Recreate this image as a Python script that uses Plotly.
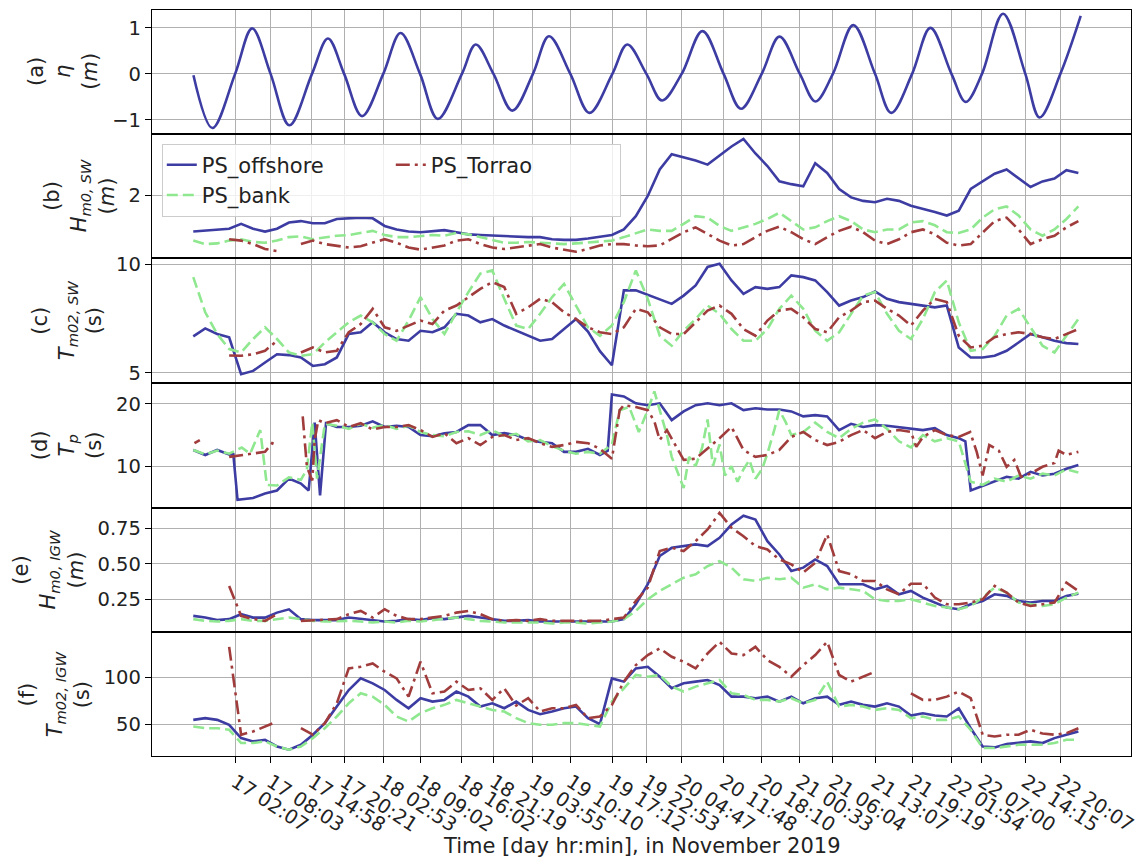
import numpy as np
import pandas as pd
import plotly.graph_objects as go
from plotly.subplots import make_subplots

# ---------------- data ----------------
T0 = pd.Timestamp("2019-11-17 02:07")

tick_labels = ["17 02:07", "17 08:03", "17 14:58", "17 20:21", "18 02:53", "18 09:02",
               "18 16:02", "18 21:19", "19 03:55", "19 10:10", "19 17:12", "19 22:53",
               "20 04:47", "20 11:48", "20 18:10", "21 00:33", "21 06:04", "21 13:07",
               "21 19:19", "22 01:54", "22 07:00", "22 14:15", "22 20:07"]

# tide (hours after 17 02:07, water level m)
tide_h = [-6.97, -3.8, 0, 2.85, 5.93, 9.08, 12.85, 15.52, 18.23, 21.22, 24.77, 27.66,
          30.92, 33.89, 37.92, 40.23, 43.2, 46.35, 49.8, 52.48, 56.05, 59.24, 63.08, 65.57,
          68.77, 71.38, 74.67, 78.14, 81.68, 84.58, 88.05, 91.02, 94.43, 97.04, 99.95, 103.37,
          107.0, 109.71, 113.2, 116.26, 119.78, 122.17, 124.88, 128.4, 132.13, 134.52, 138.0, 141.39]
tide_v = [-0.03, -1.18, 0, 0.99, 0, -1.12, 0, 0.77, 0, -0.92, 0, 0.89,
          0, -0.98, 0, 0.64, 0, -0.80, 0, 0.82, 0, -0.85, 0, 0.64,
          0, -0.58, 0, 0.93, 0, -0.76, 0, 0.81, 0, -0.60, 0, 1.06,
          0, -0.85, 0, 1.00, 0, -0.61, 0, 1.31, 0, -0.95, 0, 1.26]

# common 2-hourly sampling (hours after 17 02:07)
hours = np.arange(-7, 142, 2)

# (b) Hm0,SW (m)
off_b = [1.48, 1.49, 1.50, 1.52, 1.59, 1.52, 1.48, 1.52, 1.61, 1.63,
         1.60, 1.60, 1.66, 1.67, 1.68, 1.67, 1.56, 1.51, 1.48, 1.47,
         1.49, 1.50, 1.47, 1.44, 1.43, 1.42, 1.41, 1.41, 1.40, 1.40,
         1.37, 1.36, 1.36, 1.38, 1.41, 1.43, 1.51, 1.70, 1.99, 2.37,
         2.59, 2.55, 2.50, 2.44, 2.57, 2.70, 2.81, 2.60, 2.42, 2.20,
         2.16, 2.13, 2.46, 2.32, 2.09, 1.97, 1.92, 1.90, 1.95, 1.92,
         1.85, 1.81, 1.76, 1.71, 1.78, 2.09, 2.20, 2.31, 2.37, 2.24,
         2.12, 2.20, 2.24, 2.36, 2.32]
bank_b = [1.35, 1.30, 1.31, 1.35, 1.37, 1.33, 1.32, 1.35, 1.40, 1.41,
          1.37, 1.40, 1.42, 1.43, 1.46, 1.49, 1.43, 1.40, 1.40, 1.41,
          1.43, 1.42, 1.46, 1.44, 1.40, 1.35, 1.32, 1.32, 1.33, 1.32,
          1.31, 1.30, 1.31, 1.32, 1.33, 1.35, 1.40, 1.46, 1.51, 1.49,
          1.49, 1.59, 1.70, 1.68, 1.56, 1.49, 1.54, 1.59, 1.66, 1.75,
          1.63, 1.51, 1.54, 1.63, 1.70, 1.63, 1.51, 1.47, 1.51, 1.51,
          1.61, 1.63, 1.57, 1.47, 1.46, 1.51, 1.68, 1.80, 1.84, 1.71,
          1.51, 1.42, 1.51, 1.66, 1.84]
tor_b = [1.23, None, None, 1.37, 1.35, 1.30, 1.23, 1.20, None, 1.30,
         1.35, 1.30, 1.27, 1.25, 1.27, 1.32, 1.37, 1.32, 1.25, 1.22,
         1.25, 1.28, 1.35, 1.37, 1.30, 1.25, 1.23, 1.25, 1.28, 1.30,
         1.25, 1.22, 1.19, 1.23, 1.28, 1.30, 1.30, 1.28, 1.27, 1.28,
         1.37, 1.47, 1.54, 1.44, 1.35, 1.28, 1.30, 1.40, 1.49, 1.55,
         1.47, 1.37, 1.30, 1.40, 1.49, 1.55, 1.47, 1.35, 1.30, 1.37,
         1.47, 1.51, 1.44, 1.32, 1.28, 1.30, 1.47, 1.63, 1.68, 1.51,
         1.30, 1.37, 1.42, 1.54, 1.63]

# (c) Tm02,SW (s)
off_c = [6.68, 7.05, 6.79, 6.64, 4.94, 5.09, 5.48, 5.86, 5.82, 5.71,
         5.32, 5.40, 5.71, 6.79, 6.87, 7.33, 6.87, 6.56, 6.48, 6.94,
         6.87, 7.10, 7.72, 7.64, 7.33, 7.48, 7.18, 6.94, 6.71, 6.48,
         6.56, 7.02, 7.48, 6.90, 6.00, 5.35, 8.80, 8.80, 8.60, 8.41,
         8.18, 8.56, 9.03, 9.88, 10.03, 9.26, 8.64, 8.95, 8.87, 8.95,
         9.49, 9.41, 9.26, 8.72, 8.10, 8.33, 8.49, 8.75, 8.41, 8.26,
         8.18, 8.10, 8.02, 8.10, 6.17, 5.71, 5.71, 5.79, 6.02, 6.40,
         6.79, 6.64, 6.48, 6.37, 6.33]
bank_c = [9.41, 7.79, 6.79, 6.10, 5.94, 6.56, 7.10, 6.56, 5.94, 5.79,
          5.86, 6.40, 6.87, 7.33, 7.64, 7.33, 6.79, 6.48, 7.41, 8.49,
          7.48, 6.79, 7.79, 8.72, 9.57, 9.72, 8.41, 7.18, 7.02, 7.72,
          8.49, 9.10, 8.10, 7.10, 6.71, 7.18, 8.26, 9.72, 8.41, 6.71,
          6.25, 6.94, 7.48, 8.10, 7.72, 7.02, 6.48, 6.48, 7.02, 7.95,
          8.56, 7.95, 6.94, 6.48, 6.87, 7.72, 8.56, 8.72, 7.72, 6.94,
          6.56, 7.48, 8.72, 9.26, 7.33, 6.02, 6.10, 6.71, 7.64, 7.95,
          7.10, 6.25, 5.94, 6.71, 7.48]
tor_c = [8.02, None, None, 5.80, 5.79, 5.86, 6.02, 6.48, None, 5.94,
         6.17, 5.94, 6.02, 6.87, 7.25, 7.95, 7.10, 6.94, 7.18, 7.41,
         7.25, 7.87, 8.10, 8.49, 8.87, 9.18, 8.95, 7.72, 8.02, 8.41,
         8.26, 7.79, 7.48, 7.10, 6.87, 6.79, 7.10, 7.95, 7.79, 7.10,
         6.79, 6.79, 7.33, 7.87, 8.10, 7.72, 7.02, 6.71, 7.41, 7.87,
         7.95, 7.56, 7.02, 6.87, 7.56, 7.87, 8.26, 8.33, 7.95, 7.64,
         7.18, 7.87, 8.41, 8.26, 6.71, 6.17, 6.25, 6.64, 6.79, 6.87,
         6.79, 6.64, 6.56, 6.79, 7.02]

# (d) Tp (s) -- irregular samples
off_d_h = [-7, -5, -3, -1, -0.3, 0.4, 3, 5, 7, 9, 11, 12.3, 13.3, 14.2, 15.2, 17, 19, 21, 23, 25,
           27, 29, 31, 33, 35, 37, 39, 41, 43, 45, 47, 49, 51, 53, 55, 57, 59, 61, 62.3, 63,
           65, 67, 69, 71, 73, 75, 77, 79, 81, 83, 85, 87, 89, 91, 93, 95, 97, 99, 101, 103,
           105, 107, 109, 111, 113, 115, 117, 119, 121, 122.1, 123, 125, 127, 129, 131, 133,
           135, 137, 139, 141]
off_d = [12.6, 11.8, 12.6, 11.9, 11.9, 4.6, 4.9, 5.6, 6.1, 8.0, 7.2, 6.1, 17.0, 5.3, 16.9, 16.3,
         16.3, 16.5, 17.2, 16.3, 16.5, 16.3, 15.0, 14.8, 15.3, 15.5, 16.6, 16.6, 15.0, 15.3,
         15.0, 14.2, 13.9, 13.7, 12.3, 12.3, 12.8, 11.8, 12.5, 21.5, 21.2, 20.1, 19.8, 20.1,
         17.4, 18.8, 19.8, 20.1, 19.8, 20.1, 19.0, 19.3, 19.1, 19.1, 18.8, 18.0, 18.2, 18.0,
         15.8, 16.8, 16.3, 16.6, 16.5, 16.3, 16.1, 15.8, 16.1, 15.0, 14.5, 14.0, 6.1, 6.8,
         7.5, 8.3, 8.0, 9.1, 8.5, 8.8, 9.6, 10.2]
bank_d_h = [-7, -5, -3, -1, 1.1, 2.5, 4.2, 5.3, 7, 9, 11, 12, 12.9, 13.7, 15, 17, 19, 21, 23, 25,
            27, 29, 31, 33, 35, 37, 39, 41, 43, 45, 47, 49, 51, 53, 55, 57, 59, 61, 63, 64.3,
            65.9, 67.5, 69, 70.1, 71, 72.2, 73, 73.8, 75, 75.9, 77, 78.1, 79, 79.9, 81, 81.9,
            83, 84, 85, 86, 87, 88.1, 89, 90.2, 91, 92.1, 93, 95, 97, 99, 101, 103, 105, 107,
            109, 111, 113, 115, 117, 119, 121, 123, 125, 127, 129, 131, 133, 135, 137, 139, 141]
bank_d = [12.6, 11.9, 12.5, 12.0, 13.0, 12.0, 15.8, 7.0, 6.9, 8.2, 7.8, 9.5, 17.0, 8.0, 16.8,
          16.5, 16.0, 16.8, 16.2, 16.6, 16.0, 16.5, 15.5, 15.0, 14.8, 15.5, 15.6, 15.0, 15.8,
          14.8, 15.2, 14.0, 14.2, 13.2, 12.5, 12.0, 12.3, 12.0, 13.5, 19.0, 19.5, 15.5, 19.0,
          22.0, 19.0, 15.0, 11.5, 9.5, 6.5, 11.5, 10.0, 13.0, 17.5, 10.0, 13.5, 8.5, 10.0,
          7.5, 9.5, 11.0, 8.0, 9.5, 12.0, 16.0, 19.0, 17.0, 15.0, 15.5, 17.0, 15.5, 14.5,
          16.0, 17.0, 17.5, 16.0, 14.0, 13.0, 15.0, 14.0, 14.5, 14.0, 7.5, 7.0, 8.0, 7.5,
          8.5, 8.0, 8.8, 8.5, 9.5, 9.0]
tor_d_h = [-6.8, -5.9, -4, -1, 1.1, 3, 5, 6.2, 7, 9, 11.3, 12, 12.9, 13.3, 13.9, 15, 17, 19, 21,
           23, 25, 27, 29, 31, 33, 35, 37, 39, 41, 43, 45, 47, 49, 51, 53, 55, 57, 59, 61, 63,
           64.3, 65, 67, 69, 70.1, 71, 72.2, 73.8, 75, 77, 79, 81, 83, 85, 87, 89, 91, 93, 95,
           97, 99, 101, 103, 105, 107, 109, 111, 113, 113.9, 115, 117, 119, 121, 122.9, 124,
           125, 126.1, 127.7, 129, 130.3, 131.4, 133, 135, 137, 137.7, 139, 141]
tor_d = [13.7, 14.2, None, 11.5, 11.8, 12.0, 12.3, 13.7, 13.4, None, 18.0, 9.9, 7.7, 14.2, 17.4,
         16.9, 17.4, 16.3, 16.9, 15.9, 16.3, 16.3, 16.6, 15.8, 14.7, 15.3, 13.7, 14.5, 13.4,
         14.7, 15.0, 14.2, 14.5, 13.7, 13.1, 13.4, 13.9, 13.7, 12.8, 11.2, 19.0, 19.8, 19.5,
         19.0, 17.2, 14.2, 15.8, 13.1, 11.0, 11.2, 12.8, 14.5, 16.3, 12.6, 11.5, 11.8, 12.6,
         14.7, 15.5, 14.2, 13.4, 13.9, 15.0, 15.8, 14.5, 15.5, 15.8, 15.5, 13.1, 14.7, 15.8,
         15.0, 14.7, 15.5, 12.3, 8.5, 13.4, 12.5, 9.9, 11.0, 8.3, 8.8, 9.9, 10.5, 12.5, 11.8,
         12.3]

# (e) Hm0,IGW (m)
off_e = [0.134, 0.122, 0.104, 0.111, 0.146, 0.122, 0.122, 0.157, 0.180, 0.111,
         0.104, 0.104, 0.104, 0.122, 0.111, 0.104, 0.094, 0.099, 0.111, 0.104,
         0.118, 0.111, 0.122, 0.134, 0.122, 0.111, 0.099, 0.099, 0.104, 0.094,
         0.094, 0.099, 0.094, 0.094, 0.099, 0.094, 0.111, 0.216, 0.357, 0.556,
         0.614, 0.626, 0.638, 0.626, 0.684, 0.778, 0.840, 0.813, 0.661, 0.567,
         0.450, 0.474, 0.532, 0.485, 0.357, 0.357, 0.357, 0.321, 0.345, 0.286,
         0.310, 0.263, 0.228, 0.193, 0.181, 0.216, 0.239, 0.286, 0.275, 0.239,
         0.228, 0.239, 0.239, 0.275, 0.291]
bank_e = [0.111, 0.099, 0.094, 0.099, 0.111, 0.099, 0.099, 0.111, 0.122, 0.111,
          0.099, 0.094, 0.099, 0.099, 0.094, 0.087, 0.094, 0.087, 0.099, 0.094,
          0.104, 0.111, 0.122, 0.111, 0.099, 0.094, 0.087, 0.087, 0.087, 0.087,
          0.080, 0.087, 0.087, 0.080, 0.087, 0.094, 0.111, 0.169, 0.251, 0.310,
          0.357, 0.403, 0.427, 0.485, 0.520, 0.474, 0.392, 0.380, 0.403, 0.392,
          0.403, 0.333, 0.357, 0.321, 0.333, 0.321, 0.310, 0.251, 0.239, 0.239,
          0.251, 0.228, 0.204, 0.193, 0.181, 0.204, 0.263, 0.333, 0.298, 0.228,
          0.216, 0.204, 0.216, 0.263, 0.298]
tor_e = [0.122, None, None, 0.345, 0.134, 0.111, 0.099, 0.146, None, 0.099,
         0.104, 0.104, 0.111, 0.146, 0.169, 0.122, 0.181, 0.134, 0.111, 0.111,
         0.122, 0.134, 0.157, 0.169, 0.146, 0.111, 0.099, 0.104, 0.099, 0.111,
         0.099, 0.099, 0.094, 0.099, 0.099, 0.111, 0.122, 0.239, 0.333, 0.591,
         0.614, 0.591, 0.661, 0.743, 0.860, 0.755, 0.696, 0.626, 0.602, 0.532,
         0.497, 0.439, 0.509, 0.708, 0.450, 0.427, 0.380, 0.380, 0.321, 0.286,
         0.361, 0.361, 0.263, 0.216, 0.216, 0.228, 0.251, 0.345, 0.298, 0.228,
         0.204, 0.216, 0.228, 0.368, 0.310]

# (f) Tm02,IGW (s)
off_f = [54.6, 56.4, 54.6, 49.3, 35.1, 31.6, 33.3, 26.2, 22.7, 28.0,
         38.7, 51.1, 68.8, 86.5, 98.9, 93.6, 86.5, 75.9, 67.0, 77.7,
         74.1, 75.9, 84.8, 79.4, 68.8, 72.3, 67.0, 74.1, 65.2, 60.6,
         63.5, 67.0, 68.8, 56.4, 50.0, 98.9, 95.4, 109.6, 111.3, 100.7,
         88.3, 93.6, 95.4, 97.2, 91.8, 79.4, 79.4, 77.7, 79.4, 74.1,
         79.4, 72.3, 77.7, 79.4, 70.6, 74.1, 70.6, 68.8, 72.3, 68.8,
         59.2, 61.7, 59.2, 58.2, 67.0, 45.7, 26.2, 25.2, 28.7, 29.8,
         31.6, 29.8, 35.1, 38.7, 42.2]
bank_f = [47.5, 45.7, 45.7, 44.0, 29.8, 29.8, 31.6, 26.2, 22.7, 26.2,
          35.1, 45.7, 58.2, 72.3, 83.0, 79.4, 70.6, 58.2, 52.8, 61.7,
          67.0, 70.6, 75.9, 72.3, 68.8, 65.2, 63.5, 56.4, 51.1, 49.3,
          49.3, 51.1, 51.1, 49.3, 47.5, 74.1, 88.3, 102.5, 100.7, 102.5,
          90.1, 84.8, 90.1, 93.6, 97.2, 83.0, 81.2, 75.9, 75.9, 74.1,
          77.7, 72.3, 75.9, 95.4, 68.8, 70.6, 68.8, 65.2, 67.0, 65.2,
          56.4, 58.2, 54.6, 54.6, 58.2, 44.0, 24.5, 24.5, 26.2, 28.0,
          28.0, 28.0, 29.8, 33.3, 33.3]
tor_f = [69.9, None, None, 132.6, 38.7, 42.2, 47.5, 52.8, None, 45.7,
         38.7, 51.1, 72.3, 109.6, 111.3, 114.9, 106.0, 98.9, 79.4, 116.7,
         83.0, 84.8, 95.4, 86.5, 88.3, 75.9, 88.3, 69.9, 77.7, 63.5,
         67.0, 67.0, 70.6, 56.4, 58.2, 70.6, 95.4, 113.1, 123.8, 130.9,
         122.0, 116.7, 109.6, 125.5, 137.9, 125.5, 123.8, 132.6, 118.4, 111.3,
         100.7, 113.1, 123.8, 137.9, 102.5, 95.4, 100.7, 106.0, None, None,
         83.0, 75.9, 75.9, 79.4, 84.8, 77.7, 38.7, 36.9, 38.7, 38.7,
         44.0, 40.0, 38.7, 40.4, 45.7]

# ---------------- figure ----------------
def to_time(h):
    return T0 + pd.to_timedelta(np.asarray(h, dtype=float), unit="h")

t_grid = to_time(hours)
tick_vals = [pd.Timestamp(f"2019-11-{lab[:2]} {lab[3:]}") for lab in tick_labels]

C_OFF = "#3c3ca3"
C_BANK = "#8fe88f"
C_TOR = "#a03c3c"
LW = 2.6
FONT = "DejaVu Sans"
FS = 19.5
FS_T = 21

fig = make_subplots(rows=6, cols=1, shared_xaxes=True, vertical_spacing=2 / 746)

def add(row, x, y, who, show=False, shape="linear"):
    if who == "off":
        line = dict(color=C_OFF, width=LW, shape=shape)
        name, grp, rank = "PS_offshore", "g1", 1
    elif who == "bank":
        line = dict(color=C_BANK, width=LW, dash="11px,5px")
        name, grp, rank = "PS_bank", "g1", 2
    else:
        line = dict(color=C_TOR, width=LW, dash="14px,5px,3px,5px")
        name, grp, rank = "PS_Torrao", "g2", 3
    fig.add_trace(go.Scatter(x=x, y=y, mode="lines", line=line, name=name,
                             legendgroup=grp, legendrank=rank, showlegend=show,
                             connectgaps=False, hoverinfo="skip"), row=row, col=1)

add(1, to_time(tide_h), tide_v, "off", shape="spline")
add(2, t_grid, off_b, "off", show=True)
add(2, t_grid, bank_b, "bank", show=True)
add(2, t_grid, tor_b, "tor", show=True)
add(3, t_grid, off_c, "off")
add(3, t_grid, bank_c, "bank")
add(3, t_grid, tor_c, "tor")
add(4, to_time(off_d_h), off_d, "off")
add(4, to_time(bank_d_h), bank_d, "bank")
add(4, to_time(tor_d_h), tor_d, "tor")
add(5, t_grid, off_e, "off")
add(5, t_grid, bank_e, "bank")
add(5, t_grid, tor_e, "tor")
add(6, t_grid, off_f, "off")
add(6, t_grid, bank_f, "bank")
add(6, t_grid, tor_f, "tor")

x_range = [T0 - pd.Timedelta(hours=13.9), T0 + pd.Timedelta(hours=149.8)]

for r in range(1, 7):
    fig.update_xaxes(row=r, col=1, range=x_range, tickvals=tick_vals, ticktext=tick_labels,
                     showgrid=True, gridcolor="#b0b0b0", gridwidth=1, automargin=False,
                     showline=True, mirror=True, linecolor="black", linewidth=1.3,
                     showticklabels=(r == 6), ticks="outside" if r == 6 else "",
                     ticklen=6, tickcolor="black", tickangle=33,
                     tickfont=dict(size=FS, family=FONT, color="#222"))

ytitles = ["(a)<br><i>η</i><br>(<i>m</i>)",
           "(b)<br><i>H</i><sub><i>m0, SW</i></sub><br>(<i>m</i>)",
           "(c)<br><i>T</i><sub><i>m02, SW</i></sub><br>(s)",
           "(d)<br><i>T</i><sub><i>p</i></sub><br>(s)",
           "(e)<br><i>H</i><sub><i>m0, IGW</i></sub><br>(<i>m</i>)",
           "(f)<br><i>T</i><sub><i>m02, IGW</i></sub><br>(s)"]
yranges = [[-1.28, 1.39], [1.11, 2.87], [4.58, 10.23], [3.5, 23.2], [0.025, 0.89], [16, 147]]
ydticks = [1, 1, 5, 10, 0.25, 50]
yformats = ["", "", "", "", ".2f", ""]

for r in range(1, 7):
    fig.update_yaxes(row=r, col=1, range=yranges[r - 1], dtick=ydticks[r - 1], tick0=0,
                     tickformat=yformats[r - 1], automargin=False,
                     showgrid=True, gridcolor="#b0b0b0", gridwidth=1, zeroline=False,
                     showline=True, mirror=True, linecolor="black", linewidth=1.3,
                     ticks="outside", ticklen=6, tickcolor="black",
                     tickfont=dict(size=FS, family=FONT, color="#222"),
                     title=dict(text=ytitles[r - 1], standoff=8,
                                font=dict(size=FS_T, family=FONT, color="#222")))

fig.add_annotation(text="Time [day hr:min], in November 2019", xref="paper", yref="paper",
                   x=0.5, y=-0.121, xanchor="center", yanchor="middle", showarrow=False,
                   font=dict(size=FS_T, family=FONT, color="#222"))

fig.update_layout(
    width=1142, height=862,
    margin=dict(l=152, r=11, t=10, b=106),
    paper_bgcolor="white", plot_bgcolor="white",
    font=dict(family=FONT, size=FS, color="#222"),
    legend=dict(x=0.01, y=0.821, xanchor="left", yanchor="top",
                orientation="h", traceorder="grouped", tracegroupgap=0,
                bgcolor="rgba(255,255,255,0.8)", bordercolor="#cccccc", borderwidth=1,
                font=dict(size=21, family=FONT, color="#222"), entrywidth=184),
    showlegend=True,
)

fig.write_html("out.html", config={"displayModeBar": False},
               post_script="document.body.style.margin='0px';document.body.style.overflow='hidden';")
